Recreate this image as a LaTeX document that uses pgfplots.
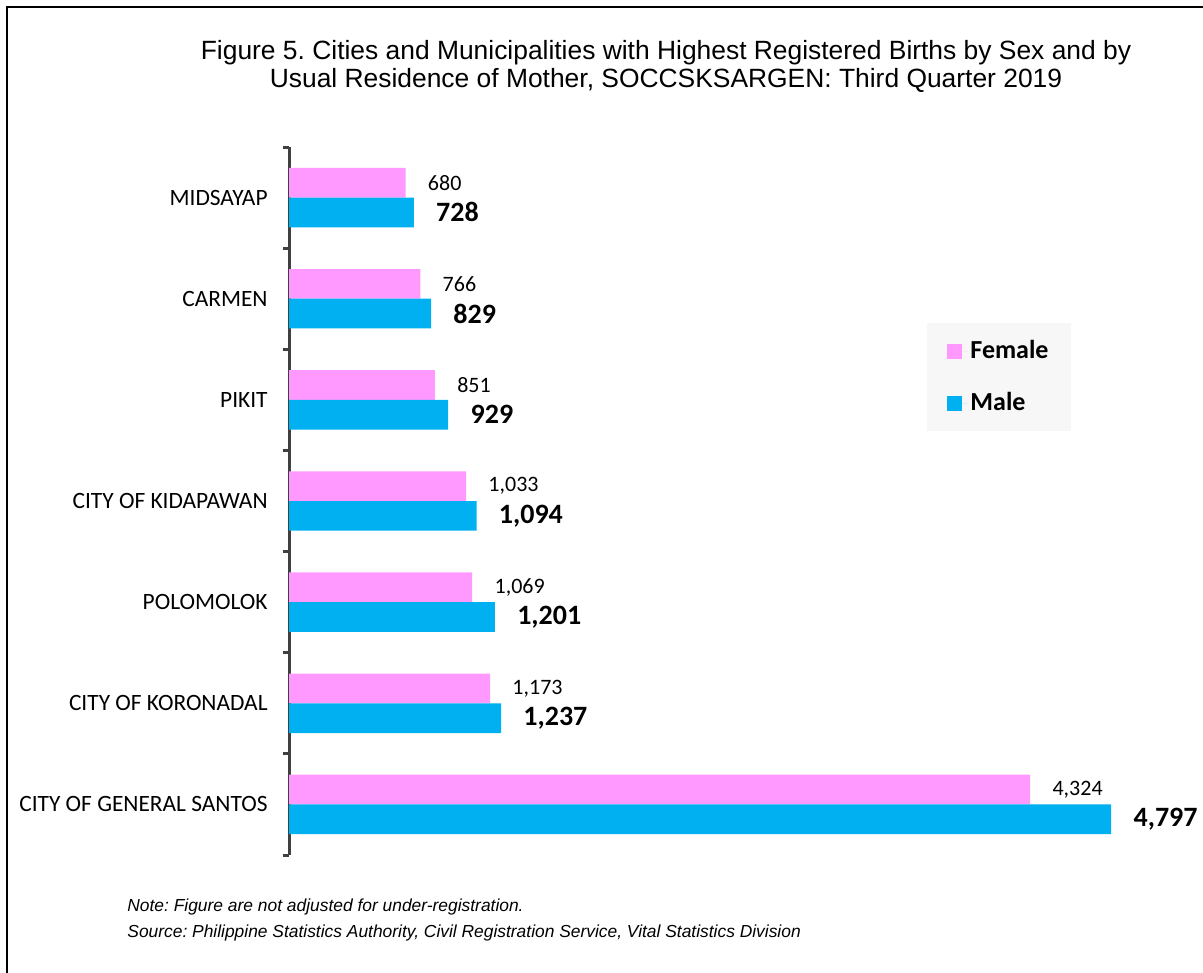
\documentclass[border=0pt]{standalone}
\usepackage{pgfplots}
\pgfplotsset{compat=1.18}
\usepackage{fontspec}
\setmainfont{Liberation Sans}
\newfontfamily\calibri{Carlito}
\definecolor{fem}{HTML}{FF99FF}
\definecolor{mal}{HTML}{00B0F0}
\definecolor{axgray}{HTML}{404040}
\frenchspacing

\begin{document}
\begin{tikzpicture}
\useasboundingbox (0,0) rectangle (601.5pt,-486.5pt);
\clip (0,0) rectangle (601.5pt,-486.5pt);
% frame, title and notes in pixel units (1px = 0.5pt, y downwards)
\begin{scope}[x=0.5pt,y=-0.5pt]
\draw[black, line width=1pt] (7,1000) -- (7,7) -- (1250,7);
\node[font=\fontsize{13.2}{14}\selectfont, align=center, inner sep=0pt] at (666,66)
  {Figure 5. Cities and Municipalities with Highest Registered Births by Sex and by\\
   Usual Residence of Mother, SOCCSKSARGEN: Third Quarter 2019};
\node[font=\itshape\fontsize{8.7}{13}\selectfont, align=left, anchor=west, inner sep=0pt] at (127,920)
  {Note: Figure are not adjusted for under-registration.\\
   Source: Philippine Statistics Authority, Civil Registration Service, Vital Statistics Division};
\end{scope}

\begin{axis}[
    at={(144.5pt,-427.5pt)}, anchor=south west,
    scale only axis,
    width=428.5pt, height=354pt,
    xbar,
    xmin=0, xmax=5000,
    ymin=-0.5, ymax=6.5,
    bar width=0.2937,
    axis x line=none,
    axis y line*=left,
    y axis line style={axgray, line width=1.5pt, -},
    ytick={0,...,6},
    yticklabels={CITY OF GENERAL SANTOS, CITY OF KORONADAL, POLOMOLOK, CITY OF KIDAPAWAN, PIKIT, CARMEN, MIDSAYAP},
    yticklabel style={font=\calibri\fontsize{11.7}{13}\selectfont, anchor=east, inner sep=0pt, xshift=-10.5pt},
    major tick length=0pt,
    minor ytick={-0.5,0.5,...,6.5},
    minor tick length=3pt,
    tick align=outside,
    minor tick style={axgray, line width=1.5pt},
    point meta=x,
    nodes near coords={\pgfmathprintnumber[fixed,precision=0,1000 sep={,},assume math mode=true]{\pgfplotspointmeta}},
    nodes near coords style={anchor=west, inner sep=0pt, xshift=11pt},
    legend style={at={(0.7445,0.7514)}, anchor=north west, draw=none, fill=black!3,
        font=\calibri\bfseries\fontsize{13}{15}\selectfont,
        inner xsep=10pt, inner ysep=7.5pt, row sep=13.5pt,
        nodes={inner sep=1pt}},
    legend cell align=left,
    legend image code/.code={\fill[#1] (0pt,-3.75pt) rectangle (7.5pt,3.75pt); \path (0pt,0pt) -- (10.5pt,0pt);},
]
\addplot[fill=fem, draw=none, bar shift=0.14685,
    nodes near coords style={font=\calibri\fontsize{11}{13}\selectfont}] coordinates {
    (4324,0) (1173,1) (1069,2) (1033,3) (851,4) (766,5) (680,6)
};
\addplot[fill=mal, draw=none, bar shift=-0.14685,
    nodes near coords style={font=\calibri\bfseries\fontsize{14}{16}\selectfont}] coordinates {
    (4797,0) (1237,1) (1201,2) (1094,3) (929,4) (829,5) (728,6)
};
\legend{Female, Male}
\end{axis}
\end{tikzpicture}
\end{document}
